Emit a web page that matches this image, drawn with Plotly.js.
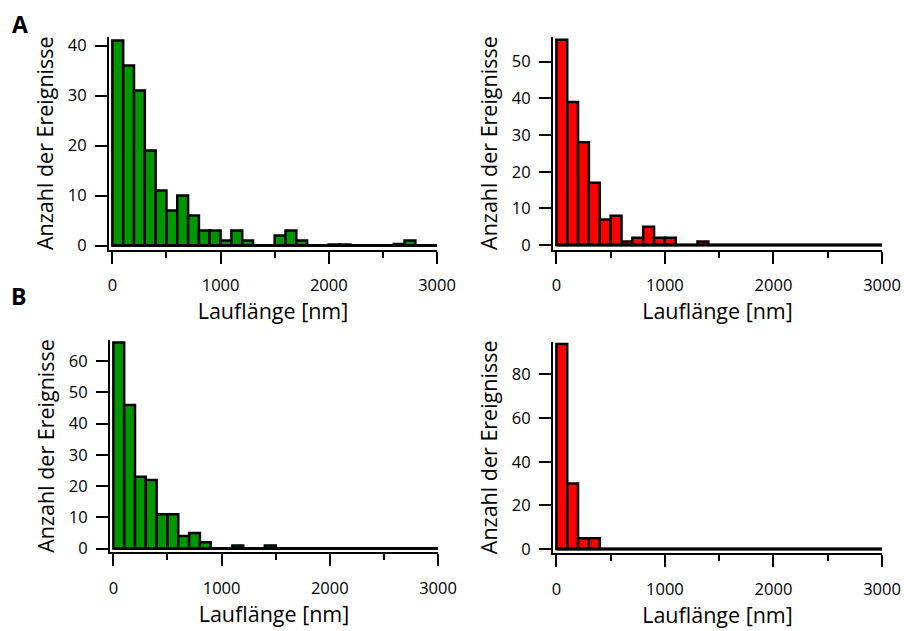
<!DOCTYPE html>
<html>
<head>
<meta charset="utf-8">
<script src="https://cdn.plot.ly/plotly-3.0.1.min.js"></script>
<style>
html, body { margin: 0; padding: 0; background: #fff; }
#chart { width: 904px; height: 631px; }
</style>
</head>
<body>
<div id="chart"></div>
<script>
// Bin centres (nm) of the run-length histograms, 100 nm bins from 0 to 3000 nm
const binCenters = [50, 150, 250, 350, 450, 550, 650, 750, 850, 950,
                    1050, 1150, 1250, 1350, 1450, 1550, 1650, 1750, 1850, 1950,
                    2050, 2150, 2250, 2350, 2450, 2550, 2650, 2750, 2850, 2950];

// Panel A, left (green)
const countsA_green = [41, 36, 31, 19, 11, 7, 10, 6, 3, 3,
                       1, 3, 1, 0, 0, 2, 3, 1, 0, 0,
                       0.2, 0.2, 0, 0, 0, 0, 0.3, 1, 0, 0];
// Panel A, right (red)
const countsA_red = [56, 39, 28, 17, 7, 8, 1, 2, 5, 2,
                     2, 0, 0, 1, 0, 0, 0, 0, 0, 0,
                     0, 0, 0, 0, 0, 0, 0, 0, 0, 0];
// Panel B, left (green)
const countsB_green = [66, 46, 23, 22, 11, 11, 4, 5, 2, 0,
                       0, 1, 0, 0, 1, 0, 0, 0, 0, 0,
                       0, 0, 0, 0, 0, 0, 0, 0, 0, 0];
// Panel B, right (red)
const countsB_red = [94, 30, 5, 5, 0, 0, 0, 0, 0, 0,
                     0, 0, 0, 0, 0, 0, 0, 0, 0, 0,
                     0, 0, 0, 0, 0, 0, 0, 0, 0, 0];

const xTickVals = [0, 1000, 2000, 3000];
const xTitle = 'Lauflänge [nm]';
const yTitle = 'Anzahl der Ereignisse';
const panelLabels = ['A', 'B'];

const GREEN = '#009600';
const RED = '#ff0000';
const FONT = 'Open Sans, Noto Sans, DejaVu Sans, sans-serif';
const W = 904, H = 631;

function bar(y, color, xa, ya) {
  return {
    type: 'bar', x: binCenters, y: y, width: 100,
    xaxis: xa, yaxis: ya,
    marker: { color: color, line: { color: '#000', width: 2.5 } },
    hoverinfo: 'x+y'
  };
}

const data = [
  bar(countsA_green, GREEN, 'x', 'y'),
  bar(countsA_red, RED, 'x2', 'y2'),
  bar(countsB_green, GREEN, 'x3', 'y3'),
  bar(countsB_red, RED, 'x4', 'y4')
];

function xax(l, r, anchor) {
  return {
    domain: [l / W, r / W], anchor: anchor,
    range: [-31, 3000],
    tickvals: xTickVals,
    ticks: 'outside', ticklen: 12, tickwidth: 2, tickcolor: '#000',
    minor: { dtick: 500, tick0: 0, ticks: 'outside', ticklen: 6, tickwidth: 2, tickcolor: '#000' },
    showline: true, linewidth: 2, linecolor: '#000',
    showgrid: false, zeroline: false,
    ticklabelstandoff: 8,
    tickfont: { family: FONT, size: 16.5, color: '#000' },
    title: { text: xTitle, font: { family: FONT, size: 21.5, color: '#000' }, standoff: 6 },
    automargin: false
  };
}
function yax(top, bottom, range, dtick, anchor) {
  return {
    domain: [1 - bottom / H, 1 - top / H], anchor: anchor,
    range: range, dtick: dtick, tick0: 0,
    ticks: 'outside', ticklen: 12, tickwidth: 2, tickcolor: '#000',
    showline: true, linewidth: 2, linecolor: '#000',
    showgrid: false, zeroline: false,
    ticklabelstandoff: 5,
    tickfont: { family: FONT, size: 16.5, color: '#000' },
    title: { text: yTitle, font: { family: FONT, size: 21.5, color: '#000' }, standoff: 8 },
    automargin: false
  };
}

const baseShapes = ['', '2', '3', '4'].map(s => ({
  type: 'line', xref: 'x' + s, yref: 'y' + s,
  x0: 0, x1: 3000, y0: 0, y1: 0,
  line: { color: '#000', width: 3 }, layer: 'above'
}));

const layout = {
  width: W, height: H,
  margin: { l: 0, r: 0, t: 0, b: 0 },
  paper_bgcolor: '#fff', plot_bgcolor: 'rgba(0,0,0,0)',
  showlegend: false, bargap: 0,
  font: { family: FONT, color: '#000' },
  xaxis: xax(109, 437, 'y'),
  yaxis: yax(37, 249.5, [-0.8, 41.7], 10, 'x'),
  xaxis2: xax(553, 882, 'y2'),
  yaxis2: yax(36.7, 249.5, [-1.2, 56.8], 10, 'x2'),
  xaxis3: xax(110, 438, 'y3'),
  yaxis3: yax(340, 552, [-1.1, 66.8], 10, 'x3'),
  xaxis4: xax(553, 882, 'y4'),
  yaxis4: yax(341.7, 553, [-1.8, 95], 20, 'x4'),
  shapes: baseShapes,
  annotations: [
    { text: '<b>' + panelLabels[0] + '</b>', xref: 'paper', yref: 'paper',
      x: 20 / W, y: 1 - 24 / H, xanchor: 'center', yanchor: 'middle', showarrow: false,
      font: { family: FONT, size: 23, color: '#000' } },
    { text: '<b>' + panelLabels[1] + '</b>', xref: 'paper', yref: 'paper',
      x: 18 / W, y: 1 - 296 / H, xanchor: 'center', yanchor: 'middle', showarrow: false,
      font: { family: FONT, size: 23, color: '#000' } }
  ]
};

Plotly.newPlot('chart', data, layout, { staticPlot: true, displayModeBar: false });
</script>
</body>
</html>
